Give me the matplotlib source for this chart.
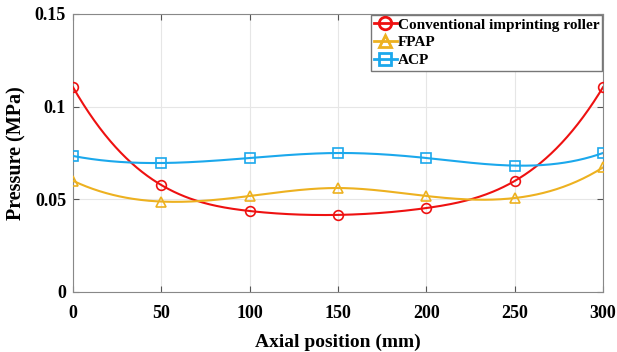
import numpy as np
import matplotlib
matplotlib.use("Agg")
import matplotlib.pyplot as plt
from matplotlib.ticker import FixedLocator

plt.rcParams['font.family'] = ['Liberation Serif', 'DejaVu Serif']
plt.rcParams['font.weight'] = 'bold'

positions = [0, 50, 100, 150, 200, 250, 300]
conventional = [0.1105, 0.0577, 0.0437, 0.0416, 0.0453, 0.0599, 0.1105]
fpap = [0.0600, 0.0488, 0.0518, 0.0561, 0.0518, 0.0507, 0.0672]
acp = [0.0734, 0.0696, 0.0723, 0.0750, 0.0723, 0.0682, 0.0750]

series_names = ["Conventional imprinting roller", "FPAP", "ACP"]
x_ticks = [0, 50, 100, 150, 200, 250, 300]
y_ticks = [0, 0.05, 0.1, 0.15]
y_tick_labels = ["0", "0.05", "0.1", "0.15"]


def spline_notaknot(x, y, xq):
    x = np.asarray(x, float)
    y = np.asarray(y, float)
    n = len(x)
    h = np.diff(x)
    A = np.zeros((n, n))
    b = np.zeros(n)
    A[0, 0] = h[1]
    A[0, 1] = -(h[0] + h[1])
    A[0, 2] = h[0]
    A[-1, -3] = h[-1]
    A[-1, -2] = -(h[-2] + h[-1])
    A[-1, -1] = h[-2]
    for i in range(1, n - 1):
        A[i, i - 1] = h[i - 1]
        A[i, i] = 2 * (h[i - 1] + h[i])
        A[i, i + 1] = h[i]
        b[i] = 6 * ((y[i + 1] - y[i]) / h[i] - (y[i] - y[i - 1]) / h[i - 1])
    M = np.linalg.solve(A, b)
    xq = np.asarray(xq, float)
    idx = np.clip(np.searchsorted(x, xq) - 1, 0, n - 2)
    x0 = x[idx]
    x1 = x[idx + 1]
    hh = h[idx]
    t0 = x1 - xq
    t1 = xq - x0
    return (M[idx] * t0 ** 3 / (6 * hh) + M[idx + 1] * t1 ** 3 / (6 * hh)
            + (y[idx] / hh - M[idx] * hh / 6) * t0
            + (y[idx + 1] / hh - M[idx + 1] * hh / 6) * t1)


fig = plt.figure(figsize=(6.17, 3.52), dpi=100)
ax = fig.add_axes([73 / 617, 1 - 292 / 352, 530 / 617, 278 / 352])

colors = ['#EE1111', '#EDB120', '#1BA8EC']
markers = ['o', '^', 's']
xs = np.linspace(0, 300, 400)
for vals, name, c, m in zip([conventional, fpap, acp], series_names, colors, markers):
    ax.plot(xs, spline_notaknot(positions, vals, xs), color=c, lw=1.5, zorder=3)
    ax.plot(positions, vals, linestyle='none', marker=m, mfc='none', mec=c,
            ms=7, mew=1.2, zorder=4)
    ax.plot([], [], color=c, lw=2, marker=m, mfc='none', mec=c, ms=9, mew=2,
            label=name)

ax.set_xlim(0, 300)
ax.set_ylim(0, 0.15)
ax.xaxis.set_major_locator(FixedLocator(x_ticks))
ax.set_yticks(y_ticks)
ax.set_yticklabels(y_tick_labels)
ax.tick_params(direction='in', top=True, right=True, labelsize=13, length=4,
               color='#555555', pad=5)
ax.tick_params(axis='x', pad=9.5)
for lab in ax.get_xticklabels() + ax.get_yticklabels():
    lab.set_fontweight('bold')
ax.grid(True, color='#E6E6E6', lw=0.8)
ax.set_axisbelow(True)
for s in ax.spines.values():
    s.set_color('#888888')
    s.set_linewidth(0.8)

ax.set_xlabel('Axial position (mm)', fontsize=14, fontweight='bold', labelpad=8)
ax.set_ylabel('Pressure (MPa)', fontsize=14.5, fontweight='bold', labelpad=6)

leg = ax.legend(loc='upper right', frameon=True, fancybox=False,
                edgecolor='#777777', framealpha=1, borderpad=0.2,
                labelspacing=0.28, handlelength=1.5, handletextpad=0.05,
                borderaxespad=0.05, prop={'weight': 'bold', 'size': 11})
leg.get_frame().set_linewidth(1.0)

fig.savefig('out.png', dpi=100)
